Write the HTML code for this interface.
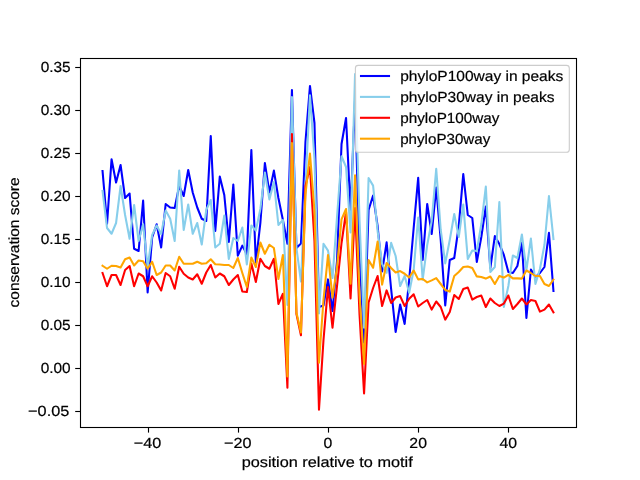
<!DOCTYPE html>
<html><head><meta charset="utf-8"><title>conservation</title>
<style>
html,body{margin:0;padding:0;background:#fff;}
body{width:640px;height:480px;overflow:hidden;}
svg{display:block;will-change:transform;}
text{text-rendering:geometricPrecision;}
text{font-family:"Liberation Sans",sans-serif;fill:#000;stroke:#000;stroke-width:0.2px;}
</style></head><body>
<svg width="640" height="480" viewBox="0 0 640 480">
<rect x="0" y="0" width="640" height="480" fill="#fff"/>
<defs><clipPath id="ax"><rect x="80" y="57.6" width="496" height="369.6"/></clipPath></defs>
<g clip-path="url(#ax)" fill="none" stroke-width="2.08" stroke-linejoin="round" stroke-linecap="square">
<path d="M102.55,171.00 L107.05,223.75 L111.56,159.25 L116.07,182.50 L120.58,165.00 L125.09,198.00 L129.60,193.50 L134.11,248.75 L138.62,251.00 L143.13,200.50 L147.64,292.50 L152.15,237.50 L156.65,224.25 L161.16,247.50 L165.67,204.00 L170.18,207.50 L174.69,208.00 L179.20,186.00 L183.71,196.00 L188.22,170.00 L192.73,192.50 L197.24,207.50 L201.75,218.75 L206.25,221.00 L210.76,136.00 L215.27,231.00 L219.78,176.50 L224.29,195.00 L228.80,242.00 L233.31,184.50 L237.82,255.60 L242.33,245.60 L246.84,254.40 L251.35,150.00 L255.85,262.50 L260.36,223.00 L264.87,163.00 L269.38,192.50 L273.89,170.60 L278.40,198.00 L282.91,220.00 L287.42,243.75 L291.93,90.00 L296.44,248.00 L300.95,243.50 L305.45,142.00 L309.96,86.00 L314.47,123.00 L318.98,307.00 L323.49,305.50 L328.00,279.40 L332.51,311.00 L337.02,261.00 L341.53,144.00 L346.04,118.00 L350.55,211.00 L355.05,100.00 L359.56,257.00 L364.07,342.70 L368.58,210.00 L373.09,195.50 L377.60,226.00 L382.11,271.50 L386.62,242.30 L391.13,289.00 L395.64,332.00 L400.15,304.50 L404.65,324.00 L409.16,280.00 L413.67,228.00 L418.18,177.80 L422.69,260.00 L427.20,204.00 L431.71,234.00 L436.22,187.50 L440.73,240.00 L445.24,305.50 L449.75,260.00 L454.25,258.00 L458.76,226.00 L463.27,174.10 L467.78,215.00 L472.29,218.00 L476.80,262.00 L481.31,237.00 L485.82,206.50 L490.33,268.00 L494.84,236.10 L499.35,244.00 L503.85,255.00 L508.36,272.00 L512.87,273.00 L517.38,266.00 L521.89,242.50 L526.40,318.00 L530.91,269.50 L535.42,277.00 L539.93,273.00 L544.44,267.00 L548.95,232.90 L553.45,291.00" stroke="#0000ff"/>
<path d="M102.55,191.00 L107.05,228.00 L111.56,233.75 L116.07,223.00 L120.58,186.00 L125.09,215.00 L129.60,238.75 L134.11,205.00 L138.62,241.00 L143.13,224.25 L147.64,267.00 L152.15,235.00 L156.65,225.50 L161.16,234.00 L165.67,210.50 L170.18,218.75 L174.69,241.00 L179.20,170.50 L183.71,230.00 L188.22,204.50 L192.73,233.75 L197.24,223.00 L201.75,244.50 L206.25,210.00 L210.76,200.00 L215.27,247.50 L219.78,243.75 L224.29,215.50 L228.80,259.00 L233.31,238.00 L237.82,241.00 L242.33,227.50 L246.84,264.40 L251.35,225.50 L255.85,230.60 L260.36,209.00 L264.87,172.50 L269.38,199.40 L273.89,182.00 L278.40,225.00 L282.91,220.00 L287.42,305.00 L291.93,97.00 L296.44,248.00 L300.95,281.50 L305.45,186.00 L309.96,95.40 L314.47,159.00 L318.98,313.40 L323.49,243.75 L328.00,250.60 L332.51,278.00 L337.02,217.00 L341.53,156.25 L346.04,167.00 L350.55,232.50 L355.05,74.00 L359.56,221.00 L364.07,327.70 L368.58,178.00 L373.09,185.60 L377.60,231.00 L382.11,264.00 L386.62,272.75 L391.13,242.80 L395.64,256.00 L400.15,286.00 L404.65,275.90 L409.16,292.75 L413.67,270.00 L418.18,217.50 L422.69,279.60 L427.20,245.00 L431.71,221.00 L436.22,168.90 L440.73,230.00 L445.24,263.40 L449.75,240.00 L454.25,214.00 L458.76,237.00 L463.27,204.50 L467.78,259.00 L472.29,250.50 L476.80,251.00 L481.31,224.00 L485.82,186.60 L490.33,272.00 L494.84,267.00 L499.35,202.10 L503.85,307.00 L508.36,286.00 L512.87,255.50 L517.38,258.00 L521.89,234.50 L526.40,270.00 L530.91,238.50 L535.42,284.00 L539.93,269.00 L544.44,245.00 L548.95,196.10 L553.45,239.00" stroke="#87ceeb"/>
<path d="M102.55,273.00 L107.05,286.25 L111.56,275.00 L116.07,275.00 L120.58,285.00 L125.09,270.00 L129.60,266.00 L134.11,286.25 L138.62,273.50 L143.13,276.25 L147.64,286.25 L152.15,276.25 L156.65,282.50 L161.16,290.50 L165.67,273.00 L170.18,276.25 L174.69,288.75 L179.20,266.75 L183.71,273.75 L188.22,277.50 L192.73,279.50 L197.24,274.25 L201.75,283.75 L206.25,272.50 L210.76,265.00 L215.27,277.50 L219.78,273.50 L224.29,276.25 L228.80,285.00 L233.31,279.50 L237.82,275.00 L242.33,291.50 L246.84,292.00 L251.35,263.50 L255.85,282.00 L260.36,258.75 L264.87,266.00 L269.38,268.75 L273.89,258.75 L278.40,304.00 L282.91,293.75 L287.42,387.75 L291.93,134.00 L296.44,314.00 L300.95,335.25 L305.45,186.00 L309.96,167.00 L314.47,241.00 L318.98,409.60 L323.49,340.00 L328.00,287.00 L332.51,327.75 L337.02,286.00 L341.53,243.00 L346.04,212.00 L350.55,298.40 L355.05,208.00 L359.56,315.00 L364.07,393.40 L368.58,302.50 L373.09,288.00 L377.60,276.00 L382.11,306.00 L386.62,290.40 L391.13,303.00 L395.64,297.50 L400.15,296.10 L404.65,306.00 L409.16,298.75 L413.67,294.25 L418.18,306.50 L422.69,303.00 L427.20,300.00 L431.71,309.60 L436.22,301.50 L440.73,307.00 L445.24,319.60 L449.75,312.00 L454.25,295.00 L458.76,299.00 L463.27,289.00 L467.78,287.50 L472.29,299.60 L476.80,297.00 L481.31,295.60 L485.82,307.00 L490.33,298.50 L494.84,303.00 L499.35,306.00 L503.85,303.60 L508.36,295.50 L512.87,309.00 L517.38,304.00 L521.89,298.50 L526.40,304.40 L530.91,300.10 L535.42,301.00 L539.93,311.60 L544.44,309.60 L548.95,304.50 L553.45,312.40" stroke="#ff0000"/>
<path d="M102.55,265.75 L107.05,268.75 L111.56,265.75 L116.07,266.00 L120.58,267.50 L125.09,259.25 L129.60,257.50 L134.11,265.50 L138.62,260.50 L143.13,261.25 L147.64,268.75 L152.15,261.75 L156.65,275.00 L161.16,272.50 L165.67,265.50 L170.18,265.50 L174.69,270.50 L179.20,256.75 L183.71,263.75 L188.22,263.75 L192.73,263.75 L197.24,261.75 L201.75,263.75 L206.25,263.25 L210.76,259.25 L215.27,264.25 L219.78,264.50 L224.29,265.00 L228.80,265.00 L233.31,268.00 L237.82,258.00 L242.33,273.00 L246.84,287.00 L251.35,257.50 L255.85,267.00 L260.36,242.50 L264.87,253.75 L269.38,244.75 L273.89,248.00 L278.40,279.00 L282.91,255.00 L287.42,376.50 L291.93,143.00 L296.44,312.50 L300.95,332.50 L305.45,194.50 L309.96,153.50 L314.47,211.00 L318.98,362.75 L323.49,300.00 L328.00,255.00 L332.51,297.70 L337.02,267.00 L341.53,219.40 L346.04,209.00 L350.55,283.80 L355.05,175.40 L359.56,295.00 L364.07,364.00 L368.58,260.00 L373.09,267.75 L377.60,241.60 L382.11,284.60 L386.62,263.00 L391.13,268.00 L395.64,272.50 L400.15,271.10 L404.65,273.75 L409.16,277.50 L413.67,270.50 L418.18,279.40 L422.69,279.00 L427.20,282.40 L431.71,280.40 L436.22,278.10 L440.73,284.00 L445.24,290.00 L449.75,291.60 L454.25,276.00 L458.76,272.00 L463.27,267.00 L467.78,266.50 L472.29,268.00 L476.80,276.40 L481.31,277.00 L485.82,278.60 L490.33,276.50 L494.84,284.00 L499.35,276.10 L503.85,277.60 L508.36,274.90 L512.87,278.40 L517.38,278.40 L521.89,278.60 L526.40,270.50 L530.91,273.00 L535.42,276.00 L539.93,276.00 L544.44,284.00 L548.95,286.00 L553.45,279.60" stroke="#ffa500"/>
</g>
<g stroke="#000" stroke-width="1.11" fill="none">
<line x1="148.50" y1="428" x2="148.50" y2="432.6"/>
<line x1="238.50" y1="428" x2="238.50" y2="432.6"/>
<line x1="328.50" y1="428" x2="328.50" y2="432.6"/>
<line x1="418.50" y1="428" x2="418.50" y2="432.6"/>
<line x1="508.50" y1="428" x2="508.50" y2="432.6"/>
<line x1="80" y1="411.50" x2="75.2" y2="411.50"/>
<line x1="80" y1="368.50" x2="75.2" y2="368.50"/>
<line x1="80" y1="325.50" x2="75.2" y2="325.50"/>
<line x1="80" y1="282.50" x2="75.2" y2="282.50"/>
<line x1="80" y1="239.50" x2="75.2" y2="239.50"/>
<line x1="80" y1="196.50" x2="75.2" y2="196.50"/>
<line x1="80" y1="153.50" x2="75.2" y2="153.50"/>
<line x1="80" y1="110.50" x2="75.2" y2="110.50"/>
<line x1="80" y1="67.50" x2="75.2" y2="67.50"/>
<rect x="80.5" y="58.5" width="496" height="369" stroke-width="1.1"/>
</g>
<g font-size="14.6">
<text x="147.64" y="448.1" text-anchor="middle" textLength="27.5" lengthAdjust="spacingAndGlyphs">−40</text>
<text x="237.82" y="448.1" text-anchor="middle" textLength="27.5" lengthAdjust="spacingAndGlyphs">−20</text>
<text x="328.00" y="448.1" text-anchor="middle" textLength="8.8" lengthAdjust="spacingAndGlyphs">0</text>
<text x="418.18" y="448.1" text-anchor="middle" textLength="17.6" lengthAdjust="spacingAndGlyphs">20</text>
<text x="508.36" y="448.1" text-anchor="middle" textLength="17.6" lengthAdjust="spacingAndGlyphs">40</text>
<text x="69.3" y="416.45" text-anchor="end" textLength="41.2" lengthAdjust="spacingAndGlyphs">−0.05</text>
<text x="70.7" y="373.45" text-anchor="end" textLength="30.0" lengthAdjust="spacingAndGlyphs">0.00</text>
<text x="70.7" y="330.45" text-anchor="end" textLength="30.0" lengthAdjust="spacingAndGlyphs">0.05</text>
<text x="70.7" y="287.45" text-anchor="end" textLength="30.0" lengthAdjust="spacingAndGlyphs">0.10</text>
<text x="70.7" y="244.45" text-anchor="end" textLength="30.0" lengthAdjust="spacingAndGlyphs">0.15</text>
<text x="70.7" y="201.45" text-anchor="end" textLength="30.0" lengthAdjust="spacingAndGlyphs">0.20</text>
<text x="70.7" y="158.45" text-anchor="end" textLength="30.0" lengthAdjust="spacingAndGlyphs">0.25</text>
<text x="70.7" y="115.45" text-anchor="end" textLength="30.0" lengthAdjust="spacingAndGlyphs">0.30</text>
<text x="70.7" y="72.45" text-anchor="end" textLength="30.0" lengthAdjust="spacingAndGlyphs">0.35</text>
<text x="327.2" y="467.3" text-anchor="middle" textLength="171" lengthAdjust="spacingAndGlyphs">position relative to motif</text>
<text transform="translate(19.2,242.4) rotate(-90)" text-anchor="middle" textLength="130" lengthAdjust="spacingAndGlyphs">conservation score</text>
</g>
<rect x="355.4" y="65.4" width="213.9" height="86.9" rx="2.8" ry="2.8" fill="#fff" fill-opacity="0.8" stroke="#ccc" stroke-width="1.11"/>
<g stroke-width="2.08" stroke-linecap="square" fill="none">
<line x1="361" y1="76" x2="389" y2="76" stroke="#0000ff"/>
<line x1="361" y1="96.9" x2="389" y2="96.9" stroke="#87ceeb"/>
<line x1="361" y1="117.8" x2="389" y2="117.8" stroke="#ff0000"/>
<line x1="361" y1="138.7" x2="389" y2="138.7" stroke="#ffa500"/>
</g>
<g font-size="14.6">
<text x="400.2" y="80.9" textLength="163.1" lengthAdjust="spacingAndGlyphs">phyloP100way in peaks</text>
<text x="400.2" y="101.8" textLength="154.29999999999998" lengthAdjust="spacingAndGlyphs">phyloP30way in peaks</text>
<text x="400.2" y="122.7" textLength="99.3" lengthAdjust="spacingAndGlyphs">phyloP100way</text>
<text x="400.2" y="143.6" textLength="90.1" lengthAdjust="spacingAndGlyphs">phyloP30way</text>
</g>
</svg></body></html>
